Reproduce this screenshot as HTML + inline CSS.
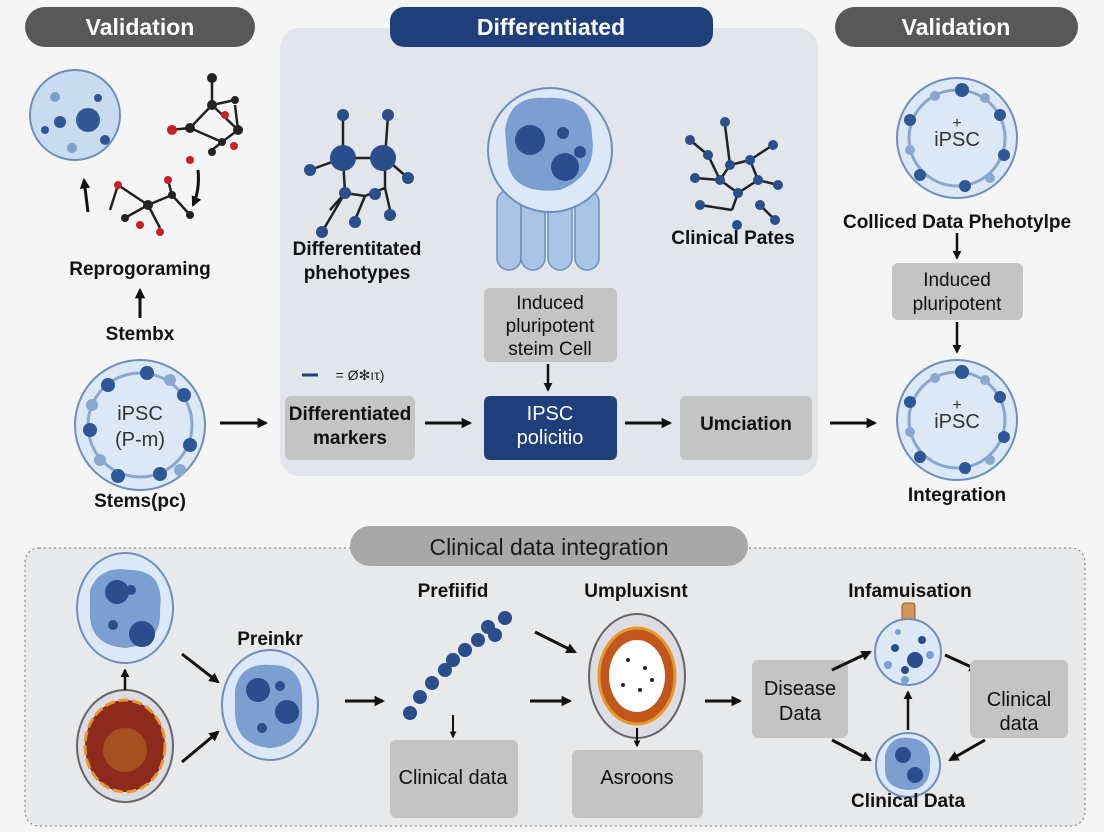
<!DOCTYPE html>
<html><head><meta charset="utf-8"><style>
html,body{margin:0;padding:0;background:#f5f5f5}
svg{display:block}
text{font-family:"Liberation Sans",sans-serif}
</style></head><body>
<svg width="1104" height="832" viewBox="0 0 1104 832" xmlns="http://www.w3.org/2000/svg">
<defs>
<marker id="a" viewBox="0 0 10 10" refX="8" refY="5" markerWidth="3.5" markerHeight="3.5" orient="auto"><path d="M0,0L10,5L0,10z" fill="#111"/></marker>
</defs>
<rect width="1104" height="832" fill="#f5f5f5"/>
<rect x="280" y="28" width="538" height="448" rx="20" fill="#e2e5e9"/>
<rect x="25" y="548" width="1060" height="278" rx="14" fill="#e8e9eb" stroke="#777" stroke-dasharray="2,3"/>
<rect x="25" y="7" width="230" height="40" rx="20" fill="#585858"/>
<text x="140" y="35" font-size="23" font-weight="bold" fill="#fff" text-anchor="middle">Validation</text>
<rect x="390" y="7" width="323" height="40" rx="14" fill="#1e3f7a"/>
<text x="551" y="35" font-size="23" font-weight="bold" fill="#fff" text-anchor="middle">Differentiated</text>
<rect x="835" y="7" width="243" height="40" rx="20" fill="#585858"/>
<text x="956" y="35" font-size="23" font-weight="bold" fill="#fff" text-anchor="middle">Validation</text>
<rect x="350" y="526" width="398" height="40" rx="20" fill="#a8a8a8"/>
<text x="549" y="555" font-size="23" fill="#1a1a1a" text-anchor="middle">Clinical data integration</text>

<g font-size="19" font-weight="bold" fill="#111" text-anchor="middle">
<circle cx="75" cy="115" r="45" fill="#c9dbef" stroke="#6d8fbf" stroke-width="2"/>
<circle cx="88" cy="120" r="12" fill="#2e5795"/><circle cx="60" cy="122" r="6" fill="#2e5795"/><circle cx="55" cy="97" r="5" fill="#7b9fd1"/><circle cx="98" cy="98" r="4" fill="#2e5795"/><circle cx="105" cy="140" r="5" fill="#2e5795"/><circle cx="72" cy="148" r="5" fill="#7b9fd1"/><circle cx="45" cy="130" r="4" fill="#2e5795"/>
<g stroke="#222" stroke-width="2.5" fill="none">
<path d="M212,78L212,105L190,128L222,142L238,130L212,105M190,128L170,130M222,142L212,150M235,105L238,130M212,105L235,100"/>
<path d="M118,185L148,205L172,195L190,215M148,205L125,218M148,205L160,228M172,195L168,180M118,185L110,210"/>
</g>
<g fill="#222"><circle cx="212" cy="78" r="5"/><circle cx="212" cy="105" r="5"/><circle cx="190" cy="128" r="5"/><circle cx="222" cy="142" r="4"/><circle cx="238" cy="130" r="5"/><circle cx="235" cy="100" r="4"/><circle cx="212" cy="152" r="4"/><circle cx="148" cy="205" r="5"/><circle cx="125" cy="218" r="4"/><circle cx="172" cy="195" r="4"/><circle cx="190" cy="215" r="4"/></g>
<g fill="#c8202a"><circle cx="172" cy="130" r="5"/><circle cx="225" cy="115" r="4"/><circle cx="234" cy="146" r="4"/><circle cx="118" cy="185" r="4"/><circle cx="168" cy="180" r="4"/><circle cx="160" cy="232" r="4"/><circle cx="140" cy="225" r="4"/><circle cx="190" cy="160" r="4"/></g>
<path d="M88,212L84,180" stroke="#111" stroke-width="3" marker-end="url(#a)"/>
<path d="M198,170Q200,190 193,205" stroke="#111" stroke-width="3" fill="none" marker-end="url(#a)"/>
<text x="140" y="275">Reprogoraming</text>
<line x1="140" y1="318" x2="140" y2="290" stroke="#111" stroke-width="3" marker-end="url(#a)"/>
<text x="140" y="340">Stembx</text>
<circle cx="140" cy="425" r="65" fill="#dce8f5" stroke="#6d8fbf" stroke-width="2"/>
<circle cx="140" cy="425" r="52" fill="none" stroke="#8aa7d0" stroke-width="3"/>
<g fill="#2e5795"><circle cx="147" cy="373" r="7"/><circle cx="184" cy="395" r="7"/><circle cx="190" cy="445" r="7"/><circle cx="160" cy="474" r="7"/><circle cx="118" cy="476" r="7"/><circle cx="90" cy="430" r="7"/><circle cx="108" cy="385" r="7"/></g>
<g fill="#8aa7d0"><circle cx="170" cy="380" r="6"/><circle cx="92" cy="405" r="6"/><circle cx="100" cy="460" r="6"/><circle cx="180" cy="470" r="6"/></g>
<text x="140" y="420" font-weight="normal" font-size="20" fill="#333">iPSC</text>
<text x="140" y="446" font-weight="normal" font-size="20" fill="#333">(P-m)</text>
<text x="140" y="507">Stems(pc)</text>
<line x1="220" y1="423" x2="266" y2="423" stroke="#111" stroke-width="3" marker-end="url(#a)"/>

<g stroke="#222" stroke-width="2.5" fill="none"><path d="M343,115L343,158L385,158L388,115M343,158L310,170M385,158L408,178M343,158L345,193L330,210M345,193L365,196L385,188L390,210M385,158L385,188M345,193L322,232M365,196L355,220"/></g>
<g fill="#2a4d8c"><circle cx="343" cy="115" r="6"/><circle cx="388" cy="115" r="6"/><circle cx="343" cy="158" r="13"/><circle cx="383" cy="158" r="13"/><circle cx="310" cy="170" r="6"/><circle cx="408" cy="178" r="6"/><circle cx="345" cy="193" r="6"/><circle cx="375" cy="194" r="6"/><circle cx="390" cy="215" r="6"/><circle cx="322" cy="232" r="6"/><circle cx="355" cy="222" r="6"/></g>
<text x="357" y="255">Differentitated</text>
<text x="357" y="279">phehotypes</text>
<g fill="#a9c4e6" stroke="#6d8fbf" stroke-width="1.5"><rect x="497" y="190" width="24" height="80" rx="12"/><rect x="521" y="190" width="24" height="80" rx="12"/><rect x="548" y="190" width="24" height="80" rx="12"/><rect x="575" y="190" width="24" height="80" rx="12"/></g>
<circle cx="550" cy="150" r="62" fill="#dce8f5" stroke="#6d8fbf" stroke-width="2"/>
<path d="M505,130Q510,95 545,98Q590,95 592,135Q598,175 560,190Q515,195 508,165Z" fill="#7b9fd1"/>
<circle cx="530" cy="140" r="15" fill="#2a4d8c"/><circle cx="565" cy="167" r="14" fill="#2a4d8c"/><circle cx="563" cy="133" r="6" fill="#2a4d8c"/><circle cx="580" cy="152" r="6" fill="#2a4d8c"/>
<g stroke="#222" stroke-width="2.5" fill="none"><path d="M730,165L750,160L758,180L738,193L720,180ZM730,165L725,125M750,160L773,145M758,180L778,185M738,193L732,210M720,180L708,155M720,180L695,178M732,210L700,205M760,205L775,220M708,155L690,140"/></g>
<g fill="#2a4d8c"><circle cx="725" cy="122" r="5"/><circle cx="730" cy="165" r="5"/><circle cx="750" cy="160" r="5"/><circle cx="758" cy="180" r="5"/><circle cx="738" cy="193" r="5"/><circle cx="720" cy="180" r="5"/><circle cx="773" cy="145" r="5"/><circle cx="778" cy="185" r="5"/><circle cx="708" cy="155" r="5"/><circle cx="690" cy="140" r="5"/><circle cx="695" cy="178" r="5"/><circle cx="700" cy="205" r="5"/><circle cx="760" cy="205" r="5"/><circle cx="775" cy="220" r="5"/><circle cx="737" cy="225" r="5"/></g>
<text x="733" y="244">Clinical Pates</text>
<rect x="484" y="288" width="133" height="74" rx="6" fill="#c4c4c4"/>
<text x="550" y="309" font-weight="normal" font-size="19" fill="#111">Induced</text>
<text x="550" y="332" font-weight="normal" font-size="19" fill="#111">pluripotent</text>
<text x="550" y="355" font-weight="normal" font-size="19" fill="#111">steim Cell</text>
<line x1="548" y1="364" x2="548" y2="390" stroke="#111" stroke-width="2.5" marker-end="url(#a)"/>
<line x1="302" y1="375" x2="318" y2="375" stroke="#1e3f7a" stroke-width="3"/>
<text x="360" y="380" font-size="14" font-weight="normal" fill="#222">= Ø✻ıτ)</text>
<rect x="285" y="396" width="130" height="64" rx="6" fill="#c4c4c4"/>
<text x="350" y="420">Differentiated</text>
<text x="350" y="444">markers</text>
<line x1="425" y1="423" x2="470" y2="423" stroke="#111" stroke-width="3" marker-end="url(#a)"/>
<rect x="484" y="396" width="133" height="64" rx="6" fill="#1e3f7a"/>
<text x="550" y="420" fill="#fff" font-weight="normal" font-size="20">IPSC</text>
<text x="550" y="444" fill="#fff" font-weight="normal" font-size="20">policitio</text>
<line x1="625" y1="423" x2="670" y2="423" stroke="#111" stroke-width="3" marker-end="url(#a)"/>
<rect x="680" y="396" width="132" height="64" rx="6" fill="#c4c4c4"/>
<text x="746" y="430">Umciation</text>
<line x1="830" y1="423" x2="875" y2="423" stroke="#111" stroke-width="3" marker-end="url(#a)"/>

<g id="ip">
<circle cx="957" cy="138" r="60" fill="#dce8f5" stroke="#6d8fbf" stroke-width="2"/>
<circle cx="957" cy="138" r="48" fill="none" stroke="#8aa7d0" stroke-width="3"/>
<g fill="#2e5795"><circle cx="962" cy="90" r="7"/><circle cx="1000" cy="115" r="6"/><circle cx="1004" cy="155" r="6"/><circle cx="965" cy="186" r="6"/><circle cx="920" cy="175" r="6"/><circle cx="910" cy="120" r="6"/></g>
<g fill="#8aa7d0"><circle cx="935" cy="96" r="5"/><circle cx="985" cy="98" r="5"/><circle cx="990" cy="178" r="5"/><circle cx="910" cy="150" r="5"/></g>
<text x="957" y="128" font-weight="normal" font-size="16" fill="#333">+</text>
<text x="957" y="146" font-weight="normal" font-size="20" fill="#333">iPSC</text>
</g>
<use href="#ip" transform="translate(0,282)"/>
<text x="957" y="228">Colliced Data Phehotylpe</text>
<line x1="957" y1="233" x2="957" y2="258" stroke="#111" stroke-width="2.5" marker-end="url(#a)"/>
<rect x="892" y="263" width="131" height="57" rx="6" fill="#c4c4c4"/>
<text x="957" y="286" font-weight="normal">Induced</text>
<text x="957" y="310" font-weight="normal">pluripotent</text>
<line x1="957" y1="322" x2="957" y2="352" stroke="#111" stroke-width="2.5" marker-end="url(#a)"/>
<text x="957" y="501">Integration</text>

<ellipse cx="125" cy="608" rx="48" ry="55" fill="#dce8f5" stroke="#6d8fbf" stroke-width="2"/>
<path d="M90,590Q100,565 130,570Q165,570 160,610Q162,645 125,648Q88,645 90,610Z" fill="#7b9fd1"/>
<circle cx="117" cy="592" r="12" fill="#2a4d8c"/><circle cx="142" cy="634" r="13" fill="#2a4d8c"/><circle cx="131" cy="590" r="5" fill="#2a4d8c"/><circle cx="113" cy="625" r="5" fill="#2a4d8c"/>
<ellipse cx="125" cy="746" rx="48" ry="56" fill="#dcdde4" stroke="#666" stroke-width="2"/>
<ellipse cx="125" cy="746" rx="40" ry="46" fill="#8e2a1c" stroke="#e79a2a" stroke-width="3" stroke-dasharray="10,4"/>
<ellipse cx="125" cy="750" rx="22" ry="22" fill="#a6501f"/>
<line x1="125" y1="690" x2="125" y2="670" stroke="#111" stroke-width="2.5" marker-end="url(#a)"/>
<line x1="182" y1="654" x2="218" y2="682" stroke="#111" stroke-width="3" marker-end="url(#a)"/>
<line x1="182" y1="762" x2="218" y2="732" stroke="#111" stroke-width="3" marker-end="url(#a)"/>
<text x="270" y="645">Preinkr</text>
<ellipse cx="270" cy="705" rx="48" ry="55" fill="#dce8f5" stroke="#6d8fbf" stroke-width="2"/>
<path d="M235,690Q240,662 272,665Q305,665 302,705Q305,745 270,748Q235,745 235,712Z" fill="#7b9fd1"/>
<circle cx="258" cy="690" r="12" fill="#2a4d8c"/><circle cx="287" cy="712" r="12" fill="#2a4d8c"/><circle cx="280" cy="686" r="5" fill="#2a4d8c"/><circle cx="262" cy="728" r="5" fill="#2a4d8c"/>
<line x1="345" y1="701" x2="383" y2="701" stroke="#111" stroke-width="3" marker-end="url(#a)"/>
<text x="453" y="597">Prefiifid</text>
<g fill="#2a4d8c"><circle cx="410" cy="713" r="7"/><circle cx="420" cy="697" r="7"/><circle cx="432" cy="683" r="7"/><circle cx="445" cy="670" r="7"/><circle cx="453" cy="660" r="7"/><circle cx="465" cy="650" r="7"/><circle cx="478" cy="640" r="7"/><circle cx="488" cy="627" r="7"/><circle cx="495" cy="635" r="7"/><circle cx="505" cy="618" r="7"/></g>
<line x1="453" y1="715" x2="453" y2="737" stroke="#111" stroke-width="2" marker-end="url(#a)"/>
<rect x="390" y="740" width="128" height="78" rx="6" fill="#c4c4c4"/>
<text x="453" y="784" font-weight="normal" font-size="20">Clinical data</text>
<text x="636" y="597">Umpluxisnt</text>
<line x1="535" y1="632" x2="575" y2="652" stroke="#111" stroke-width="3" marker-end="url(#a)"/>
<line x1="530" y1="701" x2="570" y2="701" stroke="#111" stroke-width="3" marker-end="url(#a)"/>
<ellipse cx="637" cy="676" rx="48" ry="62" fill="#dcdde4" stroke="#666" stroke-width="2"/>
<ellipse cx="637" cy="676" rx="38" ry="48" fill="#c2571e" stroke="#e79a2a" stroke-width="3"/>
<ellipse cx="637" cy="676" rx="28" ry="36" fill="#fff"/>
<g fill="#222"><circle cx="628" cy="660" r="2"/><circle cx="645" cy="668" r="2"/><circle cx="623" cy="685" r="2"/><circle cx="640" cy="690" r="2"/><circle cx="652" cy="680" r="2"/></g>
<line x1="637" y1="728" x2="637" y2="746" stroke="#111" stroke-width="2" marker-end="url(#a)"/>
<rect x="572" y="750" width="131" height="68" rx="6" fill="#c4c4c4"/>
<text x="637" y="784" font-weight="normal" font-size="20">Asroons</text>
<line x1="705" y1="701" x2="740" y2="701" stroke="#111" stroke-width="3" marker-end="url(#a)"/>
<rect x="752" y="660" width="96" height="78" rx="6" fill="#c4c4c4"/>
<text x="800" y="695" font-weight="normal" font-size="20">Disease</text>
<text x="800" y="720" font-weight="normal" font-size="20">Data</text>
<text x="910" y="597">Infamuisation</text>
<rect x="902" y="603" width="13" height="28" rx="3" fill="#d2965a" stroke="#8b5a2b"/>
<circle cx="908" cy="652" r="33" fill="#dce8f5" stroke="#6d8fbf" stroke-width="2"/>
<g fill="#2a4d8c"><circle cx="915" cy="660" r="8"/><circle cx="895" cy="648" r="4"/><circle cx="905" cy="670" r="4"/><circle cx="922" cy="640" r="4"/></g>
<g fill="#7b9fd1"><circle cx="888" cy="665" r="4"/><circle cx="930" cy="655" r="4"/><circle cx="898" cy="632" r="3"/><circle cx="905" cy="680" r="4"/></g>
<line x1="832" y1="670" x2="870" y2="652" stroke="#111" stroke-width="3" marker-end="url(#a)"/>
<line x1="945" y1="655" x2="978" y2="670" stroke="#111" stroke-width="3" marker-end="url(#a)"/>
<line x1="908" y1="730" x2="908" y2="692" stroke="#111" stroke-width="2.5" marker-end="url(#a)"/>
<rect x="970" y="660" width="98" height="78" rx="6" fill="#c4c4c4"/>
<text x="1019" y="706" font-weight="normal" font-size="20">Clinical</text>
<text x="1019" y="730" font-weight="normal" font-size="20">data</text>
<circle cx="908" cy="765" r="32" fill="#dce8f5" stroke="#6d8fbf" stroke-width="2"/>
<path d="M885,755Q890,735 910,738Q932,740 930,765Q930,790 908,790Q885,788 885,770Z" fill="#7b9fd1"/>
<circle cx="903" cy="755" r="8" fill="#2a4d8c"/><circle cx="915" cy="775" r="8" fill="#2a4d8c"/>
<line x1="832" y1="740" x2="870" y2="760" stroke="#111" stroke-width="3" marker-end="url(#a)"/>
<line x1="985" y1="740" x2="950" y2="760" stroke="#111" stroke-width="3" marker-end="url(#a)"/>
<text x="908" y="807">Clinical Data</text>
</g>
</svg>
</body></html>
